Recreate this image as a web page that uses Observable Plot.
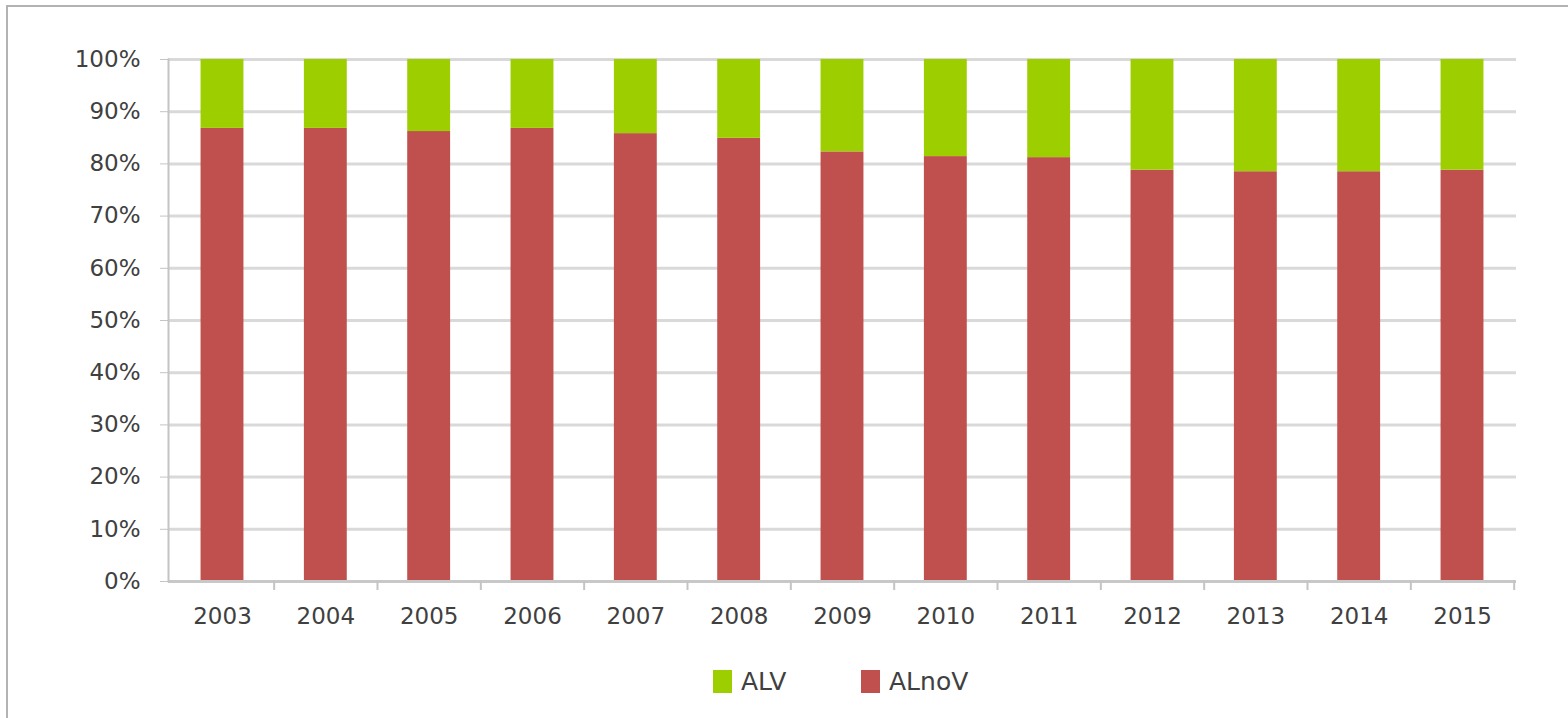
<!DOCTYPE html>
<html>
<head>
<meta charset="utf-8">
<script src="https://cdn.jsdelivr.net/npm/d3@7"></script>
<script src="https://cdn.jsdelivr.net/npm/@observablehq/plot@0.6"></script>
<style>
  html, body { margin: 0; padding: 0; background: #fff; width: 1568px; height: 718px; overflow: hidden; }
  #frame { position: absolute; left: 6px; top: 5px; width: 1580px; height: 730px; border-top: 2px solid #b3b3b3; border-left: 2px solid #b3b3b3; }
  #chart { position: absolute; left: 0; top: 0; }
  #legend { position: absolute; left: 0; top: 640px; width: 1568px; height: 78px; font-family: "DejaVu Sans", sans-serif; font-size: 25px; color: #404040; }
  .item { position: absolute; top: 27px; display: flex; align-items: center; }
  .sw { width: 19px; height: 23px; margin-right: 9px; }
</style>
</head>
<body>
<div id="frame"></div>
<div id="chart"></div>
<div id="legend"></div>
<script>
const years = ["2003","2004","2005","2006","2007","2008","2009","2010","2011","2012","2013","2014","2015"];
const alnov = [86.8, 86.8, 86.2, 86.8, 85.8, 84.9, 82.3, 81.4, 81.2, 78.8, 78.5, 78.5, 78.8];
const alv   = [13.2, 13.2, 13.8, 13.2, 14.2, 15.1, 17.7, 18.6, 18.8, 21.2, 21.5, 21.5, 21.2];
const seriesNames = ["ALnoV", "ALV"];
const seriesColors = ["#c0504d", "#9dcf00"];
const yTicks = [0, 10, 20, 30, 40, 50, 60, 70, 80, 90, 100];

const data = [];
years.forEach((y, i) => {
  data.push({year: y, series: "ALnoV", value: alnov[i]});
  data.push({year: y, series: "ALV", value: alv[i]});
});

const W = 1568, H = 640, mL = 168, mR = 52, mT = 59, mB = 59;
const pIn = 0.585, pOut = 0.315;
const step = (W - mL - mR) / (years.length - pIn + 2 * pOut);

const plot = Plot.plot({
  width: W,
  height: H,
  marginLeft: mL,
  marginRight: mR,
  marginTop: mT,
  marginBottom: mB,
  style: {fontFamily: "DejaVu Sans, sans-serif", fontSize: "23px", color: "#404040", background: "transparent"},
  x: {domain: years, paddingInner: pIn, paddingOuter: pOut, round: false, label: null},
  y: {domain: [0, 100], label: null},
  color: {domain: seriesNames, range: seriesColors},
  marks: [
    Plot.gridY(yTicks, {stroke: "#d9d9d9", strokeOpacity: 1, strokeWidth: 3}),
    Plot.barY(data, {x: "year", y: "value", fill: "series", order: seriesNames}),
    Plot.ruleY([0], {stroke: "#c8c8c8", strokeWidth: 3}),
    Plot.ruleX(years.slice(1), {stroke: "#c4c4c4", strokeWidth: 2, dx: -step / 2, y: 0, insetBottom: -9}),
    Plot.ruleX([years[years.length - 1]], {stroke: "#c4c4c4", strokeWidth: 2, dx: step / 2, y: 0, insetBottom: -9}),
    Plot.frame({anchor: "left", stroke: "#c4c4c4", strokeWidth: 2}),
    Plot.axisY(yTicks, {tickSize: 8, tickPadding: 20, stroke: "#c4c4c4", tickFormat: d => d + "%", fill: "#404040"}),
    Plot.axisX({tickSize: 0, tickPadding: 26, fill: "#404040"})
  ]
});
document.getElementById("chart").appendChild(plot);

const legend = document.getElementById("legend");
const legendItems = [["ALV", "#9dcf00", 713], ["ALnoV", "#c0504d", 861]];
legendItems.forEach(([name, color, left]) => {
  const d = document.createElement("div");
  d.className = "item";
  d.style.left = left + "px";
  d.innerHTML = `<span class="sw" style="background:${color}"></span><span>${name}</span>`;
  legend.appendChild(d);
});
</script>
</body>
</html>
